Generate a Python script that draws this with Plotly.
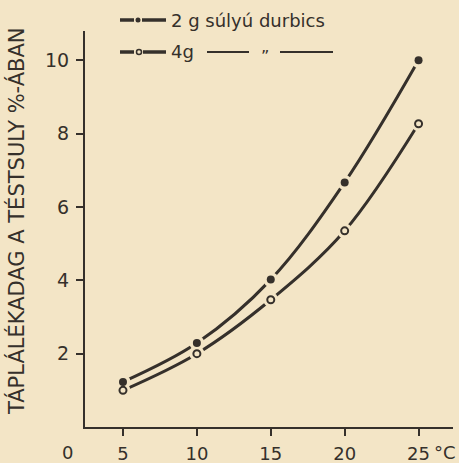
import plotly.graph_objects as go

# Data
temps = [5, 10, 15, 20, 25]
feed_2g = [1.23, 2.29, 4.02, 6.67, 10.0]
feed_4g = [1.0, 2.0, 3.47, 5.35, 8.27]
x_ticks = [5, 10, 15, 20, 25]
x_tick_labels = ["5", "10", "15", "20", "25"]
y_ticks = [2, 4, 6, 8, 10]
y_tick_labels = ["2", "4", "6", "8", "10"]
y_title = "TÁPLÁLÉKADAG A TÉSTSULY %-ÁBAN"
legend_1 = "2 g súlyú durbics"
legend_2 = "4g"

BG = "#F3E5C6"
INK = "#35302b"
FONT = "DejaVu Sans"

fig = go.Figure()

# lines
for ys in (feed_2g, feed_4g):
    fig.add_trace(go.Scatter(x=temps, y=ys, mode="lines",
                             line=dict(color=INK, width=3, shape="spline", smoothing=1.0),
                             hoverinfo="skip", showlegend=False))
# background halos -> gaps in lines around markers
for ys in (feed_2g, feed_4g):
    fig.add_trace(go.Scatter(x=temps, y=ys, mode="markers",
                             marker=dict(color=BG, size=15, line=dict(width=0)),
                             hoverinfo="skip", showlegend=False))
# markers
fig.add_trace(go.Scatter(x=temps, y=feed_2g, mode="markers",
                         marker=dict(color=INK, size=8, line=dict(width=0)),
                         showlegend=False))
fig.add_trace(go.Scatter(x=temps, y=feed_4g, mode="markers",
                         marker=dict(color=BG, size=7, line=dict(color=INK, width=2)),
                         showlegend=False))

W, H = 459, 463
ML, MR, MT, MB = 85, 6, 31, 36
PW, PH = W - ML - MR, H - MT - MB


def px(xp):
    return (xp - ML) / PW


def py(yp):
    return 1 - (yp - MT) / PH


shapes = []
annotations = []

# legend row 1
y1 = 20
shapes.append(dict(type="line", xref="paper", yref="paper", x0=px(120), x1=px(134), y0=py(y1), y1=py(y1),
                   line=dict(color=INK, width=3.5)))
shapes.append(dict(type="line", xref="paper", yref="paper", x0=px(142), x1=px(166), y0=py(y1), y1=py(y1),
                   line=dict(color=INK, width=3.5)))
shapes.append(dict(type="circle", xref="paper", yref="paper", xsizemode="pixel", ysizemode="pixel",
                   xanchor=px(138), yanchor=py(y1), x0=-2.5, x1=2.5, y0=-2.5, y1=2.5,
                   fillcolor=INK, line=dict(color=INK, width=0)))
annotations.append(dict(x=px(169), y=py(y1), xref="paper", yref="paper", xanchor="left", yanchor="middle",
                        text=legend_1, showarrow=False, font=dict(family=FONT, size=18, color=INK)))

# legend row 2
y2 = 52
shapes.append(dict(type="line", xref="paper", yref="paper", x0=px(120), x1=px(134), y0=py(y2), y1=py(y2),
                   line=dict(color=INK, width=3.5)))
shapes.append(dict(type="line", xref="paper", yref="paper", x0=px(143), x1=px(166), y0=py(y2), y1=py(y2),
                   line=dict(color=INK, width=3.5)))
shapes.append(dict(type="circle", xref="paper", yref="paper", xsizemode="pixel", ysizemode="pixel",
                   xanchor=px(139), yanchor=py(y2), x0=-2.5, x1=2.5, y0=-2.5, y1=2.5,
                   fillcolor=BG, line=dict(color=INK, width=1.5)))
annotations.append(dict(x=px(169), y=py(y2), xref="paper", yref="paper", xanchor="left", yanchor="middle",
                        text=legend_2, showarrow=False, font=dict(family=FONT, size=18, color=INK)))
shapes.append(dict(type="line", xref="paper", yref="paper", x0=px(207), x1=px(249), y0=py(y2), y1=py(y2),
                   line=dict(color=INK, width=2)))
shapes.append(dict(type="line", xref="paper", yref="paper", x0=px(280), x1=px(333), y0=py(y2), y1=py(y2),
                   line=dict(color=INK, width=2)))
annotations.append(dict(x=px(265), y=py(y2 + 5), xref="paper", yref="paper", xanchor="center", yanchor="middle",
                        text="\u201d", showarrow=False, font=dict(family=FONT, size=16, color=INK)))

# y title
annotations.append(dict(x=px(16), y=py(221), xref="paper", yref="paper", xanchor="center", yanchor="middle",
                        text=y_title, textangle=-90, showarrow=False,
                        font=dict(family=FONT, size=21, color=INK)))
# corner "0" and unit
annotations.append(dict(x=px(67), y=py(452), xref="paper", yref="paper", xanchor="center", yanchor="middle",
                        text="0", showarrow=False, font=dict(family=FONT, size=18, color=INK)))
annotations.append(dict(x=px(432), y=py(452), xref="paper", yref="paper", xanchor="left", yanchor="middle",
                        text="°C", showarrow=False, font=dict(family=FONT, size=18, color=INK)))

fig.update_layout(
    width=W, height=H,
    margin=dict(l=ML, r=MR, t=MT, b=MB, pad=0, autoexpand=False),
    paper_bgcolor=BG, plot_bgcolor=BG,
    font=dict(family=FONT, size=19, color=INK),
    shapes=shapes, annotations=annotations,
    showlegend=False,
    xaxis=dict(range=[2.43, 27.33], tickvals=x_ticks, ticktext=x_tick_labels,
               showgrid=False, zeroline=False, showline=True, linecolor=INK, linewidth=2,
               ticks="outside", ticklen=7, tickwidth=1.5, tickcolor=INK, automargin=False,
               tickfont=dict(size=18), ticklabelstandoff=2, fixedrange=True),
    yaxis=dict(range=[0, 10.8], tickvals=y_ticks, ticktext=y_tick_labels,
               showgrid=False, zeroline=False, showline=True, linecolor=INK, linewidth=2,
               ticks="outside", ticklen=7, tickwidth=1.5, tickcolor=INK, automargin=False,
               ticklabelstandoff=3, fixedrange=True),
)

fig.write_html("out.html", config=dict(displayModeBar=False),
               post_script="document.body.style.margin='0';document.body.style.background='%s';" % BG)
